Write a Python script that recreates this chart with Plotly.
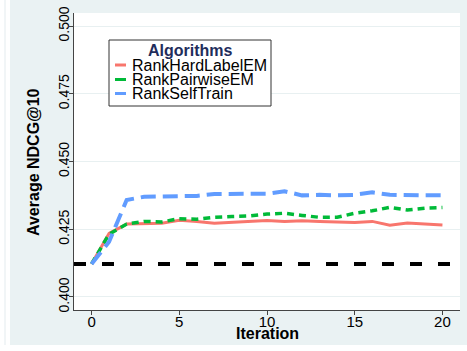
import plotly.graph_objects as go

iterations = list(range(21))
series_names = ["RankHardLabelEM", "RankPairwiseEM", "RankSelfTrain"]
hard_label_em = [0.4122, 0.4235, 0.4269, 0.4270, 0.4272, 0.4283, 0.4279, 0.4272, 0.4276,
                 0.4279, 0.4282, 0.4279, 0.4281, 0.4279, 0.4277, 0.4275, 0.4279, 0.4265,
                 0.4273, 0.4270, 0.4266]
pairwise_em = [0.4122, 0.4232, 0.4269, 0.4279, 0.4277, 0.4289, 0.4287, 0.4294, 0.4297,
               0.4299, 0.4306, 0.4309, 0.4301, 0.4294, 0.4294, 0.4309, 0.4318, 0.4331,
               0.4321, 0.4328, 0.4330]
self_train = [0.4122, 0.4204, 0.4358, 0.4370, 0.4371, 0.4372, 0.4373, 0.4380, 0.4380,
              0.4380, 0.4381, 0.4390, 0.4375, 0.4377, 0.4375, 0.4377, 0.4386, 0.4377,
              0.4375, 0.4375, 0.4375]
baseline = 0.4122
x_ticks = [0, 5, 10, 15, 20]
y_ticks = [0.400, 0.425, 0.450, 0.475, 0.500]

colors = ["#f8766d", "#00ba38", "#619cff"]
dashes = ["solid", "7px,5px", "15px,7px"]
widths = [3, 3.5, 4]
values = [hard_label_em, pairwise_em, self_train]

FONT = "Liberation Sans, Arial, sans-serif"

fig = go.Figure()
for name, vals, c, d, w in zip(series_names, values, colors, dashes, widths):
    fig.add_trace(go.Scatter(x=iterations, y=vals, mode="lines", name=name,
                             line=dict(color=c, dash=d, width=w), showlegend=False))

# plot geometry in pixels (for paper-coordinate conversion)
W, H = 467, 351
L, R, T, B = 74, 7, 13, 41
pw, ph = W - L - R, H - T - B
def px(x):
    return (x - L) / pw
def py(y):
    return (H - B - y) / ph

shapes = [
    # white strips at left and bottom edges of the image
    dict(type="rect", xref="paper", yref="paper", x0=px(-20), x1=px(10), y0=py(400), y1=py(-20),
         fillcolor="white", line=dict(width=0), layer="below"),
    dict(type="rect", xref="paper", yref="paper", x0=px(-20), x1=px(500), y0=py(400), y1=py(345),
         fillcolor="white", line=dict(width=0), layer="below"),
    dict(type="line", xref="paper", yref="paper", x0=px(5), x1=px(5), y0=py(345), y1=py(0),
         line=dict(color="#e3ebee", width=1), layer="below"),
    # baseline
    dict(type="line", xref="x domain", yref="y", x0=0, x1=1, y0=baseline, y1=baseline,
         line=dict(color="black", width=4, dash="12px,16px")),
    # legend box
    dict(type="rect", xref="paper", yref="paper", x0=px(109), x1=px(271), y0=py(106), y1=py(40),
         fillcolor="white", line=dict(color="#333333", width=1)),
]
annotations = [
    dict(text="<b>Iteration</b>", xref="paper", yref="paper", x=0.5, y=py(333),
         xanchor="center", yanchor="middle", showarrow=False,
         font=dict(family=FONT, size=16, color="black")),
    dict(text="<b>Average NDCG@10</b>", xref="paper", yref="paper", x=px(33), y=py(162),
         xanchor="center", yanchor="middle", showarrow=False, textangle=-90,
         font=dict(family=FONT, size=16, color="black")),
    dict(text="<b>Algorithms</b>", xref="paper", yref="paper", x=px(190), y=py(51),
         xanchor="center", yanchor="middle", showarrow=False,
         font=dict(family=FONT, size=16, color="#1f2d5c")),
]
item_y = [65, 79.5, 93.5]
for name, c, yy in zip(series_names, colors, item_y):
    shapes.append(dict(type="line", xref="paper", yref="paper", x0=px(115), x1=px(126),
                       y0=py(yy), y1=py(yy), line=dict(color=c, width=3)))
    annotations.append(dict(text=name, xref="paper", yref="paper", x=px(130), y=py(yy),
                            xanchor="left", yanchor="middle", showarrow=False,
                            font=dict(family=FONT, size=16, color="black")))

fig.update_layout(
    width=W, height=H,
    margin=dict(l=L, r=R, t=T, b=B, autoexpand=False),
    paper_bgcolor="#eaf2f3",
    plot_bgcolor="white",
    font=dict(family=FONT, color="black"),
    shapes=shapes,
    annotations=annotations,
    showlegend=False,
    xaxis=dict(range=[-1, 21], tickvals=x_ticks, ticks="outside", ticklen=4, tickcolor="#444",
               showline=True, linecolor="#444", linewidth=1, showgrid=False, zeroline=False,
               ticklabelstandoff=-6,
               tickfont=dict(family=FONT, size=15, color="black")),
    yaxis=dict(range=[0.3952, 0.5048], tickvals=y_ticks, tickformat=".3f", tickangle=-90,
               ticks="outside", ticklen=4, tickcolor="#444",
               showline=True, linecolor="#444", linewidth=1, showgrid=True,
               gridcolor="#e8f0f1", gridwidth=1, zeroline=False,
               ticklabelstandoff=-6,
               tickfont=dict(family=FONT, size=14, color="black")),
)

fig.write_html("out.html", config={"displayModeBar": False},
               post_script="document.body.style.margin='0';")
